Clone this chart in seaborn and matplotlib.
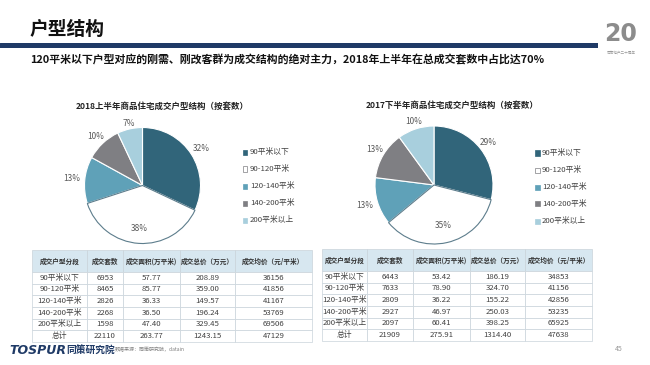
import matplotlib
matplotlib.use("Agg")
import matplotlib.pyplot as plt
import seaborn as sns
import numpy as np

sns.set_theme(style="white")
plt.rcParams['font.family'] = ['Noto Sans CJK SC', 'DejaVu Sans']

# ---------------- data ----------------
categories = ["90平米以下", "90-120平米", "120-140平米", "140-200平米", "200平米以上"]
share_2018h1 = [32, 38, 13, 10, 7]
share_2017h2 = [29, 35, 13, 13, 10]

table_header = ["成交户型分段", "成交套数", "成交面积(万平米)", "成交总价（万元）", "成交均价（元/平米）"]
row_labels = categories + ["总计"]
units_2018h1 = ["6953", "8465", "2826", "2268", "1598", "22110"]
area_2018h1 = ["57.77", "85.77", "36.33", "36.50", "47.40", "263.77"]
total_2018h1 = ["208.89", "359.00", "149.57", "196.24", "329.45", "1243.15"]
price_2018h1 = ["36156", "41856", "41167", "53769", "69506", "47129"]

units_2017h2 = ["6443", "7633", "2809", "2927", "2097", "21909"]
area_2017h2 = ["53.42", "78.90", "36.22", "46.97", "60.41", "275.91"]
total_2017h2 = ["186.19", "324.70", "155.22", "250.03", "398.25", "1314.40"]
price_2017h2 = ["34853", "41156", "42856", "53235", "65925", "47638"]

title = "户型结构"
subtitle = "120平米以下户型对应的刚需、刚改客群为成交结构的绝对主力，2018年上半年在总成交套数中占比达70%"
pie_title_left = "2018上半年商品住宅成交户型结构（按套数）"
pie_title_right = "2017下半年商品住宅成交户型结构（按套数）"

colors = sns.color_palette(["#31657a", "#ffffff", "#5fa1b8", "#7f7f83", "#a8cfdd"])
NAVY = "#1f3a66"

W, H = 650, 365
fig = plt.figure(figsize=(6.5, 3.65), dpi=100)
fig.patch.set_facecolor("white")


def px_axes(x0, y0, x1, y1):
    ax = fig.add_axes([x0 / W, 1 - y1 / H, (x1 - x0) / W, (y1 - y0) / H])
    return ax


def fx(x):
    return x / W


def fy(y):
    return 1 - y / H


# header
fig.text(fx(29), fy(29), title, fontsize=13.5, fontweight="bold", color="#111111", va="center", ha="left")
line_ax = px_axes(0, 43, 598, 48)
line_ax.axhspan(0, 1, color=NAVY)
line_ax.set_xlim(0, 1); line_ax.set_ylim(0, 1); line_ax.axis("off")
fig.text(fx(30), fy(59.5), subtitle, fontsize=7.85, fontweight="bold", color="#111111", va="center", ha="left")

# logo
fig.text(fx(621), fy(34), "20", fontsize=17, fontweight="bold", color="#8c8c8c", va="center", ha="center",
         family="DejaVu Sans")
fig.text(fx(621), fy(52), "同策地产二十周年", fontsize=2.6, color="#9a9a9a", va="center", ha="center")

# pies
label_dist_left = [1.2, 0.74, 1.22, 1.17, 1.1]
label_dist_right = [1.17, 0.71, 1.22, 1.17, 1.13]


def draw_pie(cx, cy, r, values, dists, ptitle, tx, ty, legx, legy0):
    lim = 1.35
    half = r * lim
    ax = px_axes(cx - half, cy - half, cx + half, cy + half)
    wedges, _ = ax.pie(values, colors=colors, startangle=90, counterclock=False,
                       wedgeprops=dict(edgecolor="white", linewidth=0.8))
    wedges[1].set_edgecolor("#5d7d8c")
    wedges[1].set_zorder(3)
    for w, v, d in zip(wedges, values, dists):
        ang = np.deg2rad((w.theta1 + w.theta2) / 2)
        ax.text(d * np.cos(ang), d * np.sin(ang), f"{v}%", ha="center", va="center",
                fontsize=6, color="#595959", zorder=5)
    ax.set_xlim(-lim, lim); ax.set_ylim(-lim, lim)
    ax.set_aspect("equal")
    ax.axis("off")
    fig.text(fx(tx), fy(ty), ptitle, fontsize=6.1, fontweight="bold", color="#222222", ha="center", va="center")
    for i, (c, lab) in enumerate(zip(colors, categories)):
        yy = legy0 + i * 17
        fig.patches.append(plt.Rectangle((fx(legx - 2.5), fy(yy + 2.5)), 5 / W, 5 / H,
                                         transform=fig.transFigure, facecolor=c,
                                         edgecolor="#7f7f83" if i == 1 else c, linewidth=0.5))
        fig.text(fx(legx + 5), fy(yy), lab, fontsize=5.6, color="#404040", ha="left", va="center")


draw_pie(142.5, 185.5, 58, share_2018h1, label_dist_left, pie_title_left, 162, 106, 245, 152)
draw_pie(434, 185, 59, share_2017h2, label_dist_right, pie_title_right, 452, 105, 537, 153)


# tables
def draw_table(x_edges, y0, y1, units, area, total, price):
    ax = px_axes(x_edges[0], y0, x_edges[-1], y1)
    ax.axis("off")
    rows = [list(t) for t in zip(row_labels, units, area, total, price)]
    widths = np.diff(x_edges) / (x_edges[-1] - x_edges[0])
    tb = ax.table(cellText=rows, colLabels=table_header, colWidths=list(widths),
                  bbox=[0, 0, 1, 1], cellLoc="center")
    tb.auto_set_font_size(False)
    for (r, c), cell in tb.get_celld().items():
        cell.set_height(22 if r == 0 else 11.7)
        cell.set_edgecolor("#c9d3da")
        cell.set_linewidth(0.5)
        txt = cell.get_text()
        if r == 0:
            cell.set_facecolor("#d7e7f0")
            txt.set_fontsize(4.8)
            txt.set_fontweight("bold")
            txt.set_color("#333333")
        else:
            cell.set_facecolor("white")
            txt.set_fontsize(5.6)
            txt.set_color("#404040")
    return tb


draw_table([32, 87, 123, 180, 235, 312], 250, 342, units_2018h1, area_2018h1, total_2018h1, price_2018h1)
draw_table([322, 367, 413, 470, 525, 592], 249, 341, units_2017h2, area_2017h2, total_2017h2, price_2017h2)

# footer
fig.text(fx(9), fy(350), "TOSPUR", fontsize=9, fontweight="bold", fontstyle="italic", color=NAVY,
         ha="left", va="center", family="DejaVu Sans")
fig.text(fx(66), fy(350), "同策研究院", fontsize=7, fontweight="bold", color=NAVY, ha="left", va="center")
fig.text(fx(115), fy(350), "数据来源：同策研究院，datain", fontsize=3.6, color="#808080", ha="left", va="center")
fig.text(fx(619), fy(349), "45", fontsize=5, color="#9a9a9a", ha="center", va="center")

fig.savefig("out.png", dpi=100, facecolor="white")
